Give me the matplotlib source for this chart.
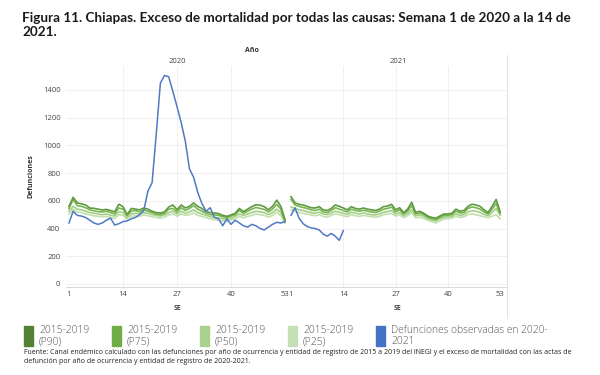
"""
Chiapas: exceso de mortalidad por todas las causas, semana 1 de 2020 a la 14 de 2021.
Two Tableau-style panes (2020, 2021) sharing one y axis, legend and source drawn by hand.
"""

import matplotlib
matplotlib.use("Agg")
import matplotlib.pyplot as plt
from matplotlib.patches import Rectangle

plt.rcParams["font.family"] = ["Open Sans", "DejaVu Sans"]

WEEKS_2020 = list(range(1, 54))
WEEKS_2021 = list(range(1, 54))
WEEKS_OBS_2021 = list(range(1, 15))

# canal endemico 2015-2019, percentiles
P90_2020 = [560, 625, 585, 578, 570, 548, 546, 540, 534, 538, 530, 520, 575, 558, 500, 545,
            540, 535, 548, 540, 525, 515, 512, 520, 555, 570, 535, 570, 548, 560, 585, 560,
            545, 522, 515, 512, 508, 495, 488, 498, 510, 545, 522, 540, 558, 572, 568, 558,
            535, 560, 605, 560, 465]
P75_2020 = [545, 610, 565, 560, 550, 535, 528, 522, 520, 525, 515, 505, 548, 540, 495, 525,
            530, 520, 535, 525, 515, 505, 500, 510, 540, 545, 520, 550, 530, 545, 565, 540,
            525, 510, 500, 498, 495, 485, 478, 490, 500, 530, 510, 525, 540, 552, 545, 538,
            520, 540, 575, 540, 455]
P50_2020 = [525, 560, 540, 535, 525, 515, 510, 505, 500, 505, 495, 490, 520, 515, 480, 505,
            510, 505, 515, 510, 500, 495, 490, 498, 515, 525, 505, 525, 510, 520, 535, 515,
            505, 495, 485, 480, 478, 470, 465, 475, 488, 505, 495, 505, 515, 525, 520, 515,
            500, 515, 540, 515, 445]
P25_2020 = [505, 540, 520, 515, 505, 498, 492, 488, 485, 488, 478, 472, 500, 495, 465, 488,
            492, 488, 498, 492, 485, 480, 475, 482, 498, 505, 488, 505, 495, 500, 512, 495,
            488, 478, 470, 465, 460, 455, 450, 462, 472, 488, 478, 488, 495, 505, 500, 495,
            482, 495, 518, 495, 440]

P90_2021 = [630, 585, 575, 570, 560, 550, 548, 558, 535, 530, 545, 570, 560, 548, 535, 558,
            545, 540, 548, 540, 535, 530, 540, 558, 562, 575, 535, 550, 515, 540, 590, 515,
            525, 510, 490, 480, 475, 490, 505, 505, 510, 540, 525, 530, 560, 575, 570, 560,
            535, 515, 560, 610, 520]
P75_2021 = [610, 570, 560, 552, 545, 535, 530, 540, 520, 515, 530, 550, 540, 530, 520, 540,
            530, 525, 532, 525, 520, 515, 525, 540, 545, 555, 520, 535, 505, 525, 565, 505,
            512, 500, 482, 472, 465, 480, 495, 495, 500, 525, 512, 515, 545, 555, 550, 540,
            520, 505, 540, 580, 510]
P50_2021 = [555, 545, 535, 530, 522, 515, 510, 518, 505, 500, 512, 525, 518, 510, 502, 518,
            510, 505, 512, 505, 500, 498, 505, 518, 522, 530, 505, 515, 492, 508, 535, 492,
            498, 488, 472, 462, 455, 470, 482, 485, 488, 505, 495, 500, 520, 528, 525, 515,
            502, 492, 515, 545, 495]
P25_2021 = [535, 525, 515, 510, 505, 498, 492, 500, 488, 482, 495, 505, 500, 492, 485, 500,
            492, 488, 495, 490, 485, 482, 488, 500, 505, 510, 490, 498, 478, 492, 515, 478,
            482, 472, 460, 450, 440, 455, 468, 472, 475, 490, 480, 485, 500, 505, 500, 492,
            485, 478, 490, 500, 470]

# defunciones observadas
OBS_2020 = [440, 525, 495, 490, 480, 460, 440, 430, 440, 460, 475, 425, 435, 450, 455, 470,
            480, 500, 530, 670, 730, 1080, 1450, 1505, 1495, 1390, 1280, 1165, 1030, 830, 770,
            660, 580, 525, 550, 480, 470, 420, 470, 430, 460, 440, 420, 410, 430, 420, 400,
            390, 410, 430, 445, 440, 450]
OBS_2021 = [495, 550, 475, 435, 415, 405, 400, 390, 360, 345, 365, 345, 315, 385]

TICKS = [1, 14, 27, 40, 53]
LEGEND_LABELS = ["2015-2019\n(P90)", "2015-2019\n(P75)", "2015-2019\n(P50)",
                 "2015-2019\n(P25)", "Defunciones observadas en 2020-\n2021"]
SWATCH = ["#548235", "#70ad47", "#a9d18e", "#c5e0b4", "#4472c4"]
LINE = ["#5e9a3f", "#78b552", "#a4cf86", "#c2dfae", "#5079c4"]

fig = plt.figure(figsize=(6, 3.75), dpi=100)
W, H = 600, 375


def box(x0, x1, y_top, y_bot):
    return [x0 / W, 1 - y_bot / H, (x1 - x0) / W, (y_bot - y_top) / H]


ax1 = fig.add_axes(box(66, 289, 66, 287))
ax2 = fig.add_axes(box(289, 507, 66, 287), sharey=ax1)

panes = [
    (ax1, WEEKS_2020, [P25_2020, P50_2020, P75_2020, P90_2020], WEEKS_2020, OBS_2020, (0.28, 53.96), "2020"),
    (ax2, WEEKS_2021, [P25_2021, P50_2021, P75_2021, P90_2021], WEEKS_OBS_2021, OBS_2021, (0.5, 54.7), "2021"),
]
for ax, weeks, pcts, obs_weeks, obs, xlim, year in panes:
    for vals, col in zip(pcts, LINE[3::-1]):
        ax.plot(weeks, vals, color=col, lw=1.2, solid_joinstyle="round")
    ax.plot(obs_weeks, obs, color=LINE[4], lw=1.1)
    ax.set_xlim(*xlim)
    ax.set_ylim(-22, 1573)
    ax.set_xticks(TICKS)
    ax.set_yticks(range(0, 1401, 200))
    ax.grid(axis="y", color="#eeeeee", lw=0.6)
    for t in TICKS[1:4]:
        ax.axvline(t, color="#efefef", lw=0.6, zorder=0)
    ax.set_axisbelow(True)
    for s in ("top", "right", "left"):
        ax.spines[s].set_visible(False)
    ax.spines["bottom"].set_color("#d9d9d9")
    ax.spines["bottom"].set_linewidth(0.7)
    ax.tick_params(axis="x", length=0, labelsize=5.5, labelcolor="#444444", pad=3)
    ax.tick_params(axis="y", length=0, labelsize=5.5, labelcolor="#444444", pad=4)
    ax.set_xlabel("SE", fontsize=5, color="#444444", fontweight="bold", labelpad=5)
    ax.set_title(year, fontsize=5.5, color="#444444", pad=2)

ax2.tick_params(axis="y", labelleft=False)
ax1.set_ylabel("Defunciones", fontsize=5, color="#333333", fontweight="bold", labelpad=6)

# pane border on the right
fig.add_artist(plt.Line2D([507 / W, 507 / W], [1 - 318 / H, 1 - 55 / H], color="#e3e3e3", lw=0.7))

fig.text(252 / W, 1 - 50 / H, "Año", fontsize=5, color="#333333", fontweight="bold",
         ha="center", va="center")

fig.text(22 / W, 1 - 25 / H, "Figura 11. Chiapas. Exceso de mortalidad por todas las causas: "
         "Semana 1 de 2020 a la 14 de\n2021.", fontsize=9.7, fontweight="bold",
         family=["Lato", "DejaVu Sans"], color="#1a1a1a", ha="left", va="center",
         linespacing=1.2)

# legend
for i, (lab, col) in enumerate(zip(LEGEND_LABELS, SWATCH)):
    x0 = 24 + i * 88
    fig.add_artist(Rectangle((x0 / W, 1 - 346 / H), 9 / W, 20 / H, color=col,
                             transform=fig.transFigure))
    fig.text((x0 + 15) / W, 1 - 325 / H, lab, fontsize=7.4, color="#555555",
             fontweight="light", ha="left", va="top", linespacing=1.0)

fig.text(24 / W, 1 - 357 / H,
         "Fuente: Canal endémico calculado con las defunciones por año de ocurrencia y entidad de "
         "registro de 2015 a 2019 del INEGI y el exceso de mortalidad con las actas de\n"
         "defunción por año de ocurrencia y entidad de registro de 2020-2021.",
         fontsize=5.0, color="#222222", ha="left", va="center", linespacing=1.4)

fig.savefig("out.png", dpi=100)
